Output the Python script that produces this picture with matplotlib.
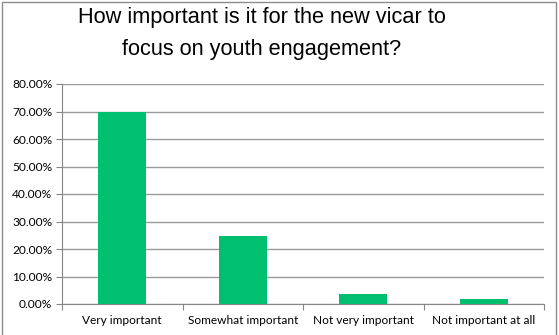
import matplotlib.pyplot as plt
import matplotlib.patches as patches
from matplotlib.ticker import FuncFormatter, FixedLocator
import numpy as np

categories = ['Very important', 'Somewhat important', 'Not very important', 'Not important at all']
shares = [69.9, 24.8, 3.6, 1.8]   # percent of respondents
yticks = [0, 10, 20, 30, 40, 50, 60, 70, 80]

W, H = 559, 335
fig = plt.figure(figsize=(W / 100, H / 100), dpi=100)

# outer frame of the chart
fig.add_artist(patches.Rectangle((2 / W, -0.05), (556 - 2) / W, 1.05 - 2 / H,
                                 transform=fig.transFigure, fill=False,
                                 edgecolor='#8c8c8c', linewidth=1.0))

ax = fig.add_axes([62 / W, (H - 304) / H, (544 - 62) / W, (304 - 84) / H])

x = np.arange(len(categories))
ax.bar(x, shares, width=0.4, color='#00bf6f', zorder=3)

ax.set_xlim(-0.5, len(categories) - 0.5)
ax.set_ylim(0, 80)
ax.set_yticks(yticks)
ax.yaxis.set_major_formatter(FuncFormatter(lambda v, p: '%.2f%%' % v))
ax.grid(axis='y', color='#9a9a9a', linewidth=1.0, zorder=0)

# category labels centred, tick marks on category boundaries
ax.xaxis.set_major_locator(FixedLocator(np.arange(-0.5, len(categories), 1.0)))
ax.set_xticklabels([])
ax.xaxis.set_minor_locator(FixedLocator(x))
ax.set_xticklabels(categories, minor=True)
ax.tick_params(axis='x', which='minor', length=0, pad=8)
ax.tick_params(axis='x', which='major', length=4, color='#868686', direction='out')
ax.tick_params(axis='y', length=4, color='#868686', direction='out', pad=3)

for lab in ax.get_xticklabels(minor=True) + ax.get_yticklabels():
    lab.set_fontfamily('Lato')
    lab.set_fontsize(8.6)
    lab.set_color('#000000')

for side in ['top', 'right']:
    ax.spines[side].set_visible(False)
ax.spines['left'].set_color('#868686')
ax.spines['bottom'].set_color('#868686')

fig.text(262 / W, 1 - 23 / H, 'How important is it for the new vicar to',
         ha='center', va='baseline', fontsize=15.7, fontfamily='Liberation Sans')
fig.text(262 / W, 1 - 55 / H, 'focus on youth engagement?',
         ha='center', va='baseline', fontsize=15.7, fontfamily='Liberation Sans')

fig.savefig('out.png', dpi=100)
